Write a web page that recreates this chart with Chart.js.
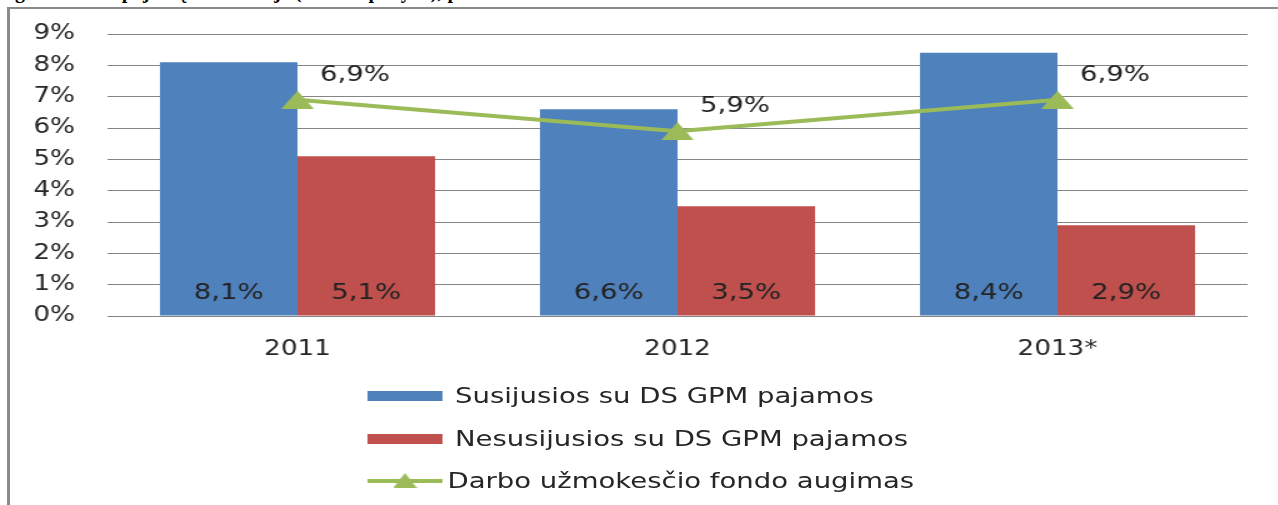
<!DOCTYPE html>
<html>
<head>
<meta charset="utf-8">
<script src="https://cdn.jsdelivr.net/npm/chart.js@4.4.0/dist/chart.umd.min.js"></script>
<style>
  html, body { margin: 0; padding: 0; background: #fff; overflow: hidden; }
  #page { position: relative; width: 1278px; height: 505px; overflow: hidden; }
  #title { position: absolute; left: -6px; top: -20px; line-height: 20px; font: bold 20px "Liberation Serif"; color: #000; white-space: nowrap; }
  #frame { position: absolute; left: 7px; top: 7px; width: 1300px; height: 520px; border-left: 3px solid #8a8a8a; border-top: 2px solid #8a8a8a; }
  /* the whole chart is a bit wider than tall fonts would give, so stretch it */
  #stretch { position: absolute; left: 0; top: 0; width: 1022px; height: 505px; transform: scaleX(1.25); transform-origin: 0 0; }
  #box { position: absolute; left: 0; top: 0; width: 1022px; height: 370px; }
  #legend { position: absolute; left: 0; top: 0; font: 22px "DejaVu Sans"; color: #262626; }
  .item { position: absolute; white-space: nowrap; }
  .item canvas { position: absolute; }
  .item span { position: absolute; }
</style>
</head>
<body>
<div id="page">
  <div id="title">augimas GPM pajamų struktūroje (metinis pokytis), proc.</div>
  <div id="frame"></div>
  <div id="stretch">
    <div id="box"><canvas id="chart"></canvas></div>
    <div id="legend"></div>
  </div>
</div>
<script>
const years = ['2011', '2012', '2013*'];
const relatedIncome = [8.1, 6.6, 8.4];
const unrelatedIncome = [5.1, 3.5, 2.9];
const wageFundGrowth = [6.9, 5.9, 6.9];
const seriesNames = [
    'Susijusios su DS GPM pajamos',
    'Nesusijusios su DS GPM pajamos',
    'Darbo užmokesčio fondo augimas'
];
const yMin = 0, yMax = 9, yStep = 1;

const BLUE = '#4f81bd';
const RED = '#c0504d';
const GREEN = '#9bbb59';

function pct(v) {
    return v.toFixed(1).replace('.', ',') + '%';
}

// flattened triangle used as marker
function triangle(w, h) {
    const c = document.createElement('canvas');
    c.width = w;
    c.height = h;
    const g = c.getContext('2d');
    g.fillStyle = GREEN;
    g.beginPath();
    g.moveTo(w / 2, 0);
    g.lineTo(w, h);
    g.lineTo(0, h);
    g.closePath();
    g.fill();
    return c;
}

// value labels: bars at the bottom, line up-right of the point
const valueLabels = {
    id: 'valueLabels',
    afterDatasetsDraw(chart) {
        const ctx = chart.ctx;
        const y0 = chart.scales.y.getPixelForValue(0);
        ctx.save();
        ctx.font = '22px "DejaVu Sans"';
        ctx.fillStyle = '#222';
        ctx.textBaseline = 'middle';
        chart.data.datasets.forEach((ds, i) => {
            const meta = chart.getDatasetMeta(i);
            meta.data.forEach((el, j) => {
                if (ds.type === 'line') {
                    ctx.textAlign = 'left';
                    ctx.fillText(pct(ds.data[j]), el.x + 18, el.y - 25);
                } else {
                    ctx.textAlign = 'center';
                    ctx.fillText(pct(ds.data[j]), el.x, y0 - 23);
                }
            });
        });
        ctx.restore();
    }
};

const ctx = document.getElementById('chart').getContext('2d');
const chart = new Chart(ctx, {
    type: 'bar',
    data: {
        labels: years,
        datasets: [
            {
                type: 'line',
                label: seriesNames[2],
                data: wageFundGrowth,
                borderColor: GREEN,
                borderWidth: 4,
                pointStyle: triangle(26, 18),
                pointRadius: 10,
                tension: 0,
                order: 0
            },
            {
                label: seriesNames[0],
                data: relatedIncome,
                backgroundColor: BLUE,
                order: 1
            },
            {
                label: seriesNames[1],
                data: unrelatedIncome,
                backgroundColor: RED,
                order: 1
            }
        ]
    },
    options: {
        responsive: true,
        maintainAspectRatio: false,
        animation: false,
        categoryPercentage: 0.724,
        barPercentage: 1,
        layout: { padding: { left: 10, right: 24, top: 34, bottom: 0 } },
        plugins: {
            legend: { display: false },
            tooltip: { enabled: false }
        },
        scales: {
            x: {
                grid: { display: false },
                border: { display: false },
                ticks: { color: '#262626', font: { family: 'DejaVu Sans', size: 21 }, padding: 13 },
                afterFit: s => { s.height = 54; }
            },
            y: {
                min: yMin,
                max: yMax,
                grid: { color: '#868686', lineWidth: 1, drawTicks: false },
                border: { display: false },
                ticks: {
                    stepSize: yStep,
                    color: '#262626',
                    font: { family: 'DejaVu Sans', size: 21 },
                    padding: 26,
                    callback: v => v + '%'
                },
                // keep the big label gap from pushing the plot top down
                afterFit: s => {
                    s.width = 76;
                    s.paddingTop = 0;
                    s.paddingBottom = 0;
                }
            }
        }
    },
    plugins: [valueLabels]
});

// legend, one entry per row
const legend = document.getElementById('legend');
const legendRows = [396, 439, 481];
const legendKinds = ['bar', 'bar', 'line'];
const legendColors = [BLUE, RED, GREEN];
[0, 1, 2].forEach(i => {
    const item = document.createElement('div');
    item.className = 'item';
    item.style.top = legendRows[i] + 'px';
    const sym = document.createElement('canvas');
    sym.width = 60;
    sym.height = 20;
    sym.style.left = '294px';
    sym.style.top = '-10px';
    const g = sym.getContext('2d');
    if (legendKinds[i] === 'bar') {
        g.fillStyle = legendColors[i];
        g.fillRect(0, 5, 60, 10);
    } else {
        g.fillStyle = legendColors[i];
        g.fillRect(0, 8, 60, 4);
        g.drawImage(triangle(19, 15), 20.5, 2);
    }
    item.appendChild(sym);
    const txt = document.createElement('span');
    txt.textContent = seriesNames[i];
    txt.style.left = (legendKinds[i] === 'bar' ? 364 : 358) + 'px';
    txt.style.top = '-13px';
    txt.style.lineHeight = '26px';
    item.appendChild(txt);
    legend.appendChild(item);
});
</script>
</body>
</html>
